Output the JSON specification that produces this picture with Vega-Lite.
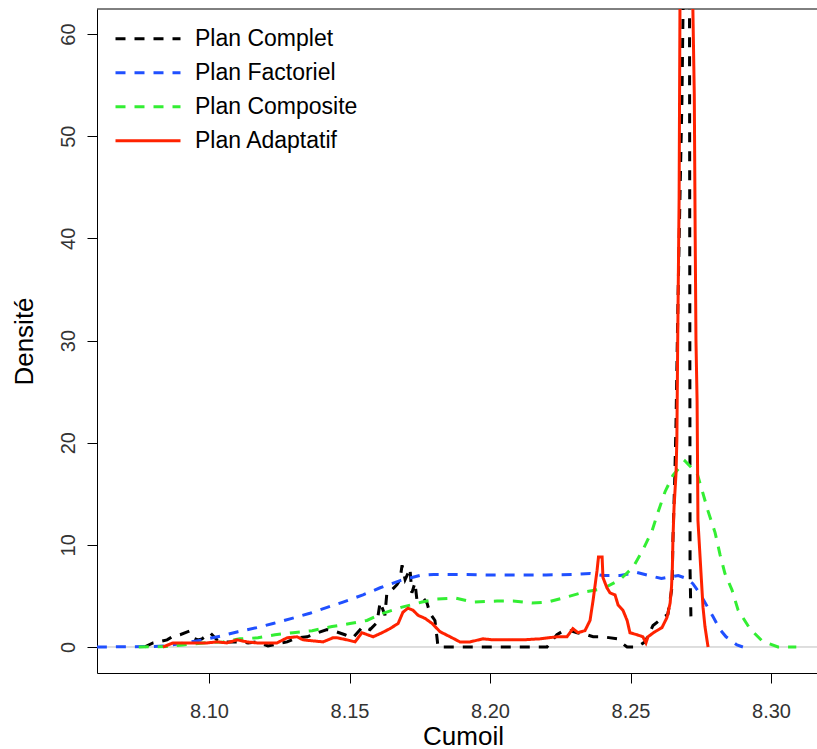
{
"$schema": "https://vega.github.io/schema/vega-lite/v6.json",
"width": 720, "height": 664,
"autosize": {"type": "none"},
"padding": {"left": 97, "top": 9, "right": 0, "bottom": 76},
"background": "white",
"config": {
  "view": {"stroke": null},
  "font": "Liberation Sans",
  "axis": {"grid": false, "domainColor": "black", "tickColor": "black", "domainWidth": 1, "tickWidth": 1, "tickSize": 10, "labelFont": "Liberation Sans", "labelFontSize": 20, "labelColor": "#333333", "titleFont": "Liberation Sans", "titleFontSize": 26, "titleFontWeight": "normal", "titleColor": "black", "labelOverlap": false},
  "axisY": {"labelAngle": 270, "labelAlign": "center", "labelBaseline": "alphabetic", "labelPadding": 13, "labelFlush": false, "titleAngle": 270, "titleX": -65, "titleY": 332, "titleAlign": "center", "titleBaseline": "alphabetic"}
},
"datasets": {
"curves": [
{"s":"Plan Complet","x":8.0770,"y":0},{"s":"Plan Complet","x":8.0801,"y":0.4},{"s":"Plan Complet","x":8.0851,"y":0.7},{"s":"Plan Complet","x":8.0868,"y":1.0},{"s":"Plan Complet","x":8.0897,"y":1.2},{"s":"Plan Complet","x":8.0925,"y":1.5},{"s":"Plan Complet","x":8.0932,"y":1.0},{"s":"Plan Complet","x":8.0961,"y":0.7},{"s":"Plan Complet","x":8.0975,"y":0.8},{"s":"Plan Complet","x":8.1004,"y":1.4},{"s":"Plan Complet","x":8.1028,"y":0.7},{"s":"Plan Complet","x":8.1046,"y":0.5},{"s":"Plan Complet","x":8.1082,"y":0.5},{"s":"Plan Complet","x":8.1110,"y":0.5},{"s":"Plan Complet","x":8.1139,"y":0.4},{"s":"Plan Complet","x":8.1171,"y":0.5},{"s":"Plan Complet","x":8.1210,"y":0.1},{"s":"Plan Complet","x":8.1242,"y":0.3},{"s":"Plan Complet","x":8.1278,"y":0.5},{"s":"Plan Complet","x":8.1313,"y":0.9},{"s":"Plan Complet","x":8.1349,"y":1.0},{"s":"Plan Complet","x":8.1388,"y":1.4},{"s":"Plan Complet","x":8.1420,"y":1.7},{"s":"Plan Complet","x":8.1441,"y":1.6},{"s":"Plan Complet","x":8.1484,"y":1.2},{"s":"Plan Complet","x":8.1512,"y":0.9},{"s":"Plan Complet","x":8.1548,"y":2.0},{"s":"Plan Complet","x":8.1573,"y":1.7},{"s":"Plan Complet","x":8.1598,"y":2.4},{"s":"Plan Complet","x":8.1609,"y":4.4},{"s":"Plan Complet","x":8.1626,"y":3.1},{"s":"Plan Complet","x":8.1633,"y":5.3},{"s":"Plan Complet","x":8.1651,"y":5.6},{"s":"Plan Complet","x":8.1669,"y":6.1},{"s":"Plan Complet","x":8.1680,"y":6.6},{"s":"Plan Complet","x":8.1687,"y":8.0},{"s":"Plan Complet","x":8.1698,"y":6.6},{"s":"Plan Complet","x":8.1708,"y":7.2},{"s":"Plan Complet","x":8.1715,"y":7.7},{"s":"Plan Complet","x":8.1722,"y":5.3},{"s":"Plan Complet","x":8.1733,"y":6.3},{"s":"Plan Complet","x":8.1740,"y":4.6},{"s":"Plan Complet","x":8.1762,"y":4.8},{"s":"Plan Complet","x":8.1776,"y":4.3},{"s":"Plan Complet","x":8.1786,"y":3.3},{"s":"Plan Complet","x":8.1804,"y":2.6},{"s":"Plan Complet","x":8.1811,"y":1.0},{"s":"Plan Complet","x":8.1815,"y":0},{"s":"Plan Complet","x":8.2203,"y":0},{"s":"Plan Complet","x":8.2238,"y":1.2},{"s":"Plan Complet","x":8.2256,"y":1.5},{"s":"Plan Complet","x":8.2285,"y":1.6},{"s":"Plan Complet","x":8.2310,"y":1.4},{"s":"Plan Complet","x":8.2345,"y":1.2},{"s":"Plan Complet","x":8.2367,"y":1.0},{"s":"Plan Complet","x":8.2402,"y":1.0},{"s":"Plan Complet","x":8.2452,"y":0.8},{"s":"Plan Complet","x":8.2463,"y":0.5},{"s":"Plan Complet","x":8.2488,"y":0},{"s":"Plan Complet","x":8.2523,"y":0},{"s":"Plan Complet","x":8.2552,"y":0.5},{"s":"Plan Complet","x":8.2580,"y":2.1},{"s":"Plan Complet","x":8.2598,"y":2.5},{"s":"Plan Complet","x":8.2633,"y":3.2},{"s":"Plan Complet","x":8.2648,"y":5.9},{"s":"Plan Complet","x":8.2651,"y":10.5},{"s":"Plan Complet","x":8.2658,"y":17},{"s":"Plan Complet","x":8.2662,"y":22},{"s":"Plan Complet","x":8.2669,"y":34},{"s":"Plan Complet","x":8.2676,"y":44},{"s":"Plan Complet","x":8.2683,"y":53.5},{"s":"Plan Complet","x":8.2687,"y":62.4},{"s":"Plan Complet","x":8.2698,"y":300},{"s":"Plan Complet","x":8.2710,"y":62.4},{"s":"Plan Complet","x":8.2712,"y":7.5},{"s":"Plan Complet","x":8.2715,"y":3.0},
{"s":"Plan Factoriel","x":8.0601,"y":0},{"s":"Plan Factoriel","x":8.0800,"y":0.05},{"s":"Plan Factoriel","x":8.0843,"y":0.1},{"s":"Plan Factoriel","x":8.0915,"y":0.4},{"s":"Plan Factoriel","x":8.0979,"y":0.7},{"s":"Plan Factoriel","x":8.1046,"y":1.1},{"s":"Plan Factoriel","x":8.1103,"y":1.5},{"s":"Plan Factoriel","x":8.1171,"y":1.9},{"s":"Plan Factoriel","x":8.1228,"y":2.3},{"s":"Plan Factoriel","x":8.1295,"y":2.8},{"s":"Plan Factoriel","x":8.1359,"y":3.3},{"s":"Plan Factoriel","x":8.1423,"y":3.9},{"s":"Plan Factoriel","x":8.1477,"y":4.4},{"s":"Plan Factoriel","x":8.1548,"y":5.1},{"s":"Plan Factoriel","x":8.1609,"y":5.8},{"s":"Plan Factoriel","x":8.1680,"y":6.5},{"s":"Plan Factoriel","x":8.1751,"y":7.0},{"s":"Plan Factoriel","x":8.1800,"y":7.1},{"s":"Plan Factoriel","x":8.1900,"y":7.1},{"s":"Plan Factoriel","x":8.2000,"y":7.05},{"s":"Plan Factoriel","x":8.2100,"y":7.05},{"s":"Plan Factoriel","x":8.2200,"y":7.05},{"s":"Plan Factoriel","x":8.2300,"y":7.1},{"s":"Plan Factoriel","x":8.2356,"y":7.2},{"s":"Plan Factoriel","x":8.2402,"y":7.0},{"s":"Plan Factoriel","x":8.2463,"y":7.0},{"s":"Plan Factoriel","x":8.2523,"y":7.3},{"s":"Plan Factoriel","x":8.2580,"y":6.9},{"s":"Plan Factoriel","x":8.2610,"y":6.7},{"s":"Plan Factoriel","x":8.2670,"y":7.0},{"s":"Plan Factoriel","x":8.2700,"y":6.7},{"s":"Plan Factoriel","x":8.2722,"y":6.2},{"s":"Plan Factoriel","x":8.2740,"y":5.5},{"s":"Plan Factoriel","x":8.2758,"y":4.7},{"s":"Plan Factoriel","x":8.2793,"y":3.0},{"s":"Plan Factoriel","x":8.2819,"y":1.7},{"s":"Plan Factoriel","x":8.2840,"y":1.0},{"s":"Plan Factoriel","x":8.2879,"y":0.2},{"s":"Plan Factoriel","x":8.2900,"y":0},
{"s":"Plan Composite","x":8.0750,"y":0},{"s":"Plan Composite","x":8.0850,"y":0.05},{"s":"Plan Composite","x":8.0907,"y":0.2},{"s":"Plan Composite","x":8.0979,"y":0.4},{"s":"Plan Composite","x":8.1050,"y":0.5},{"s":"Plan Composite","x":8.1110,"y":0.8},{"s":"Plan Composite","x":8.1174,"y":0.9},{"s":"Plan Composite","x":8.1235,"y":1.2},{"s":"Plan Composite","x":8.1299,"y":1.4},{"s":"Plan Composite","x":8.1367,"y":1.6},{"s":"Plan Composite","x":8.1438,"y":2.0},{"s":"Plan Composite","x":8.1502,"y":2.3},{"s":"Plan Composite","x":8.1562,"y":2.6},{"s":"Plan Composite","x":8.1619,"y":3.3},{"s":"Plan Composite","x":8.1687,"y":3.9},{"s":"Plan Composite","x":8.1758,"y":4.4},{"s":"Plan Composite","x":8.1811,"y":4.7},{"s":"Plan Composite","x":8.1875,"y":4.8},{"s":"Plan Composite","x":8.1940,"y":4.4},{"s":"Plan Composite","x":8.2025,"y":4.5},{"s":"Plan Composite","x":8.2082,"y":4.5},{"s":"Plan Composite","x":8.2149,"y":4.3},{"s":"Plan Composite","x":8.2206,"y":4.4},{"s":"Plan Composite","x":8.2274,"y":4.9},{"s":"Plan Composite","x":8.2338,"y":5.4},{"s":"Plan Composite","x":8.2402,"y":5.7},{"s":"Plan Composite","x":8.2463,"y":6.6},{"s":"Plan Composite","x":8.2509,"y":7.8},{"s":"Plan Composite","x":8.2544,"y":9.5},{"s":"Plan Composite","x":8.2577,"y":11.4},{"s":"Plan Composite","x":8.2598,"y":13.2},{"s":"Plan Composite","x":8.2623,"y":15.2},{"s":"Plan Composite","x":8.2651,"y":16.8},{"s":"Plan Composite","x":8.2694,"y":18.2},{"s":"Plan Composite","x":8.2737,"y":17.0},{"s":"Plan Composite","x":8.2754,"y":15.4},{"s":"Plan Composite","x":8.2776,"y":13.3},{"s":"Plan Composite","x":8.2801,"y":11.2},{"s":"Plan Composite","x":8.2819,"y":9.0},{"s":"Plan Composite","x":8.2836,"y":7.2},{"s":"Plan Composite","x":8.2861,"y":5.6},{"s":"Plan Composite","x":8.2883,"y":3.6},{"s":"Plan Composite","x":8.2925,"y":1.8},{"s":"Plan Composite","x":8.2968,"y":0.6},{"s":"Plan Composite","x":8.3025,"y":0},{"s":"Plan Composite","x":8.3090,"y":0},
{"s":"Plan Adaptatif","x":8.0836,"y":0},{"s":"Plan Adaptatif","x":8.0872,"y":0.4},{"s":"Plan Adaptatif","x":8.0932,"y":0.4},{"s":"Plan Adaptatif","x":8.0993,"y":0.4},{"s":"Plan Adaptatif","x":8.1028,"y":0.5},{"s":"Plan Adaptatif","x":8.1064,"y":0.4},{"s":"Plan Adaptatif","x":8.1100,"y":0.7},{"s":"Plan Adaptatif","x":8.1135,"y":0.5},{"s":"Plan Adaptatif","x":8.1171,"y":0.4},{"s":"Plan Adaptatif","x":8.1206,"y":0.4},{"s":"Plan Adaptatif","x":8.1242,"y":0.4},{"s":"Plan Adaptatif","x":8.1278,"y":0.9},{"s":"Plan Adaptatif","x":8.1313,"y":1.0},{"s":"Plan Adaptatif","x":8.1335,"y":0.7},{"s":"Plan Adaptatif","x":8.1370,"y":0.6},{"s":"Plan Adaptatif","x":8.1406,"y":0.5},{"s":"Plan Adaptatif","x":8.1441,"y":0.9},{"s":"Plan Adaptatif","x":8.1456,"y":0.9},{"s":"Plan Adaptatif","x":8.1491,"y":0.7},{"s":"Plan Adaptatif","x":8.1520,"y":0.5},{"s":"Plan Adaptatif","x":8.1544,"y":1.4},{"s":"Plan Adaptatif","x":8.1584,"y":1.0},{"s":"Plan Adaptatif","x":8.1616,"y":1.4},{"s":"Plan Adaptatif","x":8.1644,"y":1.8},{"s":"Plan Adaptatif","x":8.1673,"y":2.3},{"s":"Plan Adaptatif","x":8.1690,"y":3.4},{"s":"Plan Adaptatif","x":8.1708,"y":3.8},{"s":"Plan Adaptatif","x":8.1726,"y":3.6},{"s":"Plan Adaptatif","x":8.1744,"y":3.1},{"s":"Plan Adaptatif","x":8.1769,"y":2.8},{"s":"Plan Adaptatif","x":8.1794,"y":2.3},{"s":"Plan Adaptatif","x":8.1822,"y":1.5},{"s":"Plan Adaptatif","x":8.1858,"y":1.0},{"s":"Plan Adaptatif","x":8.1893,"y":0.5},{"s":"Plan Adaptatif","x":8.1929,"y":0.5},{"s":"Plan Adaptatif","x":8.1975,"y":0.8},{"s":"Plan Adaptatif","x":8.2011,"y":0.7},{"s":"Plan Adaptatif","x":8.2060,"y":0.7},{"s":"Plan Adaptatif","x":8.2117,"y":0.7},{"s":"Plan Adaptatif","x":8.2178,"y":0.8},{"s":"Plan Adaptatif","x":8.2238,"y":1.0},{"s":"Plan Adaptatif","x":8.2274,"y":1.0},{"s":"Plan Adaptatif","x":8.2295,"y":1.8},{"s":"Plan Adaptatif","x":8.2313,"y":1.4},{"s":"Plan Adaptatif","x":8.2338,"y":1.6},{"s":"Plan Adaptatif","x":8.2356,"y":2.6},{"s":"Plan Adaptatif","x":8.2367,"y":4.6},{"s":"Plan Adaptatif","x":8.2381,"y":7.5},{"s":"Plan Adaptatif","x":8.2386,"y":8.8},{"s":"Plan Adaptatif","x":8.2399,"y":8.8},{"s":"Plan Adaptatif","x":8.2402,"y":6.8},{"s":"Plan Adaptatif","x":8.2416,"y":5.8},{"s":"Plan Adaptatif","x":8.2427,"y":5.3},{"s":"Plan Adaptatif","x":8.2445,"y":5.1},{"s":"Plan Adaptatif","x":8.2456,"y":4.1},{"s":"Plan Adaptatif","x":8.2473,"y":3.6},{"s":"Plan Adaptatif","x":8.2488,"y":2.6},{"s":"Plan Adaptatif","x":8.2498,"y":1.4},{"s":"Plan Adaptatif","x":8.2523,"y":1.2},{"s":"Plan Adaptatif","x":8.2544,"y":1.0},{"s":"Plan Adaptatif","x":8.2555,"y":0.4},{"s":"Plan Adaptatif","x":8.2562,"y":1.0},{"s":"Plan Adaptatif","x":8.2587,"y":1.5},{"s":"Plan Adaptatif","x":8.2612,"y":1.9},{"s":"Plan Adaptatif","x":8.2630,"y":2.9},{"s":"Plan Adaptatif","x":8.2641,"y":4.3},{"s":"Plan Adaptatif","x":8.2646,"y":5.9},{"s":"Plan Adaptatif","x":8.2649,"y":7.8},{"s":"Plan Adaptatif","x":8.2651,"y":10.5},{"s":"Plan Adaptatif","x":8.2655,"y":13.7},{"s":"Plan Adaptatif","x":8.2662,"y":17},{"s":"Plan Adaptatif","x":8.2665,"y":20.3},{"s":"Plan Adaptatif","x":8.2668,"y":30},{"s":"Plan Adaptatif","x":8.2673,"y":44},{"s":"Plan Adaptatif","x":8.2676,"y":62.4},{"s":"Plan Adaptatif","x":8.2700,"y":300},{"s":"Plan Adaptatif","x":8.2722,"y":62.4},{"s":"Plan Adaptatif","x":8.2727,"y":54},{"s":"Plan Adaptatif","x":8.2730,"y":41},{"s":"Plan Adaptatif","x":8.2733,"y":30},{"s":"Plan Adaptatif","x":8.2737,"y":24},{"s":"Plan Adaptatif","x":8.2740,"y":12.4},{"s":"Plan Adaptatif","x":8.2751,"y":7.2},{"s":"Plan Adaptatif","x":8.2758,"y":3.9},{"s":"Plan Adaptatif","x":8.2765,"y":2.0},{"s":"Plan Adaptatif","x":8.2776,"y":0}
]
},
"layer": [
  {
    "data": {"values": [{}]},
    "mark": {"type": "rule", "color": "#bdbdbd", "strokeWidth": 1},
    "encoding": {"y": {"datum": 0, "type": "quantitative", "title": "Densité", "axis": {"values": [0, 10, 20, 30, 40, 50, 60]}}}
  },
  {
    "data": {"values": [{}]},
    "mark": {"type": "rule", "color": "black", "strokeWidth": 1},
    "encoding": {"y": {"datum": 62.45, "type": "quantitative", "title": "Densité", "axis": {"values": [0, 10, 20, 30, 40, 50, 60]}}}
  },
  {
    "data": {"name": "curves"},
    "mark": {"type": "line", "clip": true, "strokeCap": "butt"},
    "encoding": {
      "x": {"field": "x", "type": "quantitative",
        "scale": {"domain": [8.06014, 8.31637], "nice": false, "zero": false},
        "axis": {"values": [8.10, 8.15, 8.20, 8.25, 8.30], "format": ".2f", "title": "Cumoil",
          "labelPadding": 34, "labelBaseline": "alphabetic", "labelFlush": false,
          "titleX": 366, "titleY": 71, "titleAlign": "center", "titleBaseline": "alphabetic"}},
      "y": {"field": "y", "type": "quantitative", "title": "Densité",
        "scale": {"domain": [-2.545, 62.45], "nice": false, "zero": false},
        "axis": {"values": [0, 10, 20, 30, 40, 50, 60]}},
      "color": {"field": "s", "type": "nominal",
        "scale": {"domain": ["Plan Complet", "Plan Factoriel", "Plan Composite", "Plan Adaptatif"], "range": ["#000000", "#2050ff", "#33ee33", "#ff2200"]},
        "legend": {"title": null, "orient": "none", "legendX": 17, "legendY": 14, "symbolType": "stroke", "symbolSize": 4225, "symbolStrokeWidth": 3, "labelFont": "Liberation Sans", "labelFontSize": 23, "labelColor": "black", "labelOffset": 13, "clipHeight": 31.7, "rowPadding": 2, "padding": 0, "labelLimit": 400}},
      "strokeDash": {"field": "s", "type": "nominal",
        "scale": {"domain": ["Plan Complet", "Plan Factoriel", "Plan Composite", "Plan Adaptatif"], "range": [[10, 9], [10, 9], [10, 9], [1, 0]]},
        "legend": {"title": null, "orient": "none", "legendX": 17, "legendY": 14, "symbolType": "stroke", "symbolSize": 4225, "symbolStrokeWidth": 3, "labelFont": "Liberation Sans", "labelFontSize": 23, "labelColor": "black", "labelOffset": 13, "clipHeight": 31.7, "rowPadding": 2, "padding": 0, "labelLimit": 400}},
      "strokeWidth": {"field": "s", "type": "nominal",
        "scale": {"domain": ["Plan Complet", "Plan Factoriel", "Plan Composite", "Plan Adaptatif"], "range": [3, 3, 3, 3.5]},
        "legend": {"title": null, "orient": "none", "legendX": 17, "legendY": 14, "symbolType": "stroke", "symbolSize": 4225, "labelFont": "Liberation Sans", "labelFontSize": 23, "labelColor": "black", "labelOffset": 13, "clipHeight": 31.7, "rowPadding": 2, "padding": 0, "labelLimit": 400}}
    }
  }
]
}
